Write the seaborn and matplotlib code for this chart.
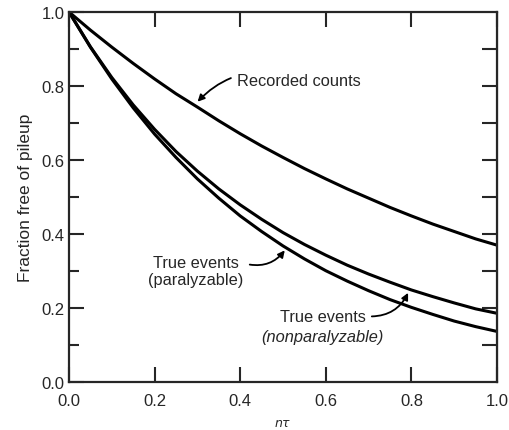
import numpy as np
import pandas as pd
import matplotlib.pyplot as plt
import seaborn as sns
from matplotlib.ticker import MultipleLocator

# values (n*tau from 0 to 1 in 0.05 steps)
n_tau = [0.00, 0.05, 0.10, 0.15, 0.20, 0.25, 0.30, 0.35, 0.40, 0.45, 0.50,
         0.55, 0.60, 0.65, 0.70, 0.75, 0.80, 0.85, 0.90, 0.95, 1.00]
recorded = [1.000, 0.951, 0.905, 0.861, 0.819, 0.779, 0.743, 0.706, 0.671, 0.638, 0.607,
            0.577, 0.549, 0.522, 0.497, 0.472, 0.449, 0.427, 0.407, 0.387, 0.370]
paralyzable = [1.000, 0.905, 0.819, 0.741, 0.670, 0.607, 0.549, 0.497, 0.449, 0.407, 0.368,
               0.333, 0.301, 0.273, 0.247, 0.223, 0.202, 0.183, 0.165, 0.150, 0.137]
nonparalyzable = [1.000, 0.906, 0.823, 0.749, 0.683, 0.623, 0.570, 0.522, 0.479, 0.440, 0.404,
                  0.372, 0.343, 0.316, 0.292, 0.270, 0.249, 0.231, 0.214, 0.198, 0.186]

df = pd.DataFrame({
    "ntau": n_tau * 3,
    "frac": recorded + paralyzable + nonparalyzable,
    "curve": ["Recorded"] * len(n_tau) + ["Paralyzable"] * len(n_tau) + ["Nonparalyzable"] * len(n_tau),
})

sns.set_style("ticks")
plt.rcParams["font.family"] = ["Liberation Sans", "DejaVu Sans"]

fig = plt.figure(figsize=(5.09, 4.31), dpi=100)
ax = fig.add_axes([0.1355, 0.111, 0.841, 0.859])

sns.lineplot(data=df, x="ntau", y="frac", units="curve", estimator=None,
             color="black", linewidth=2.2, ax=ax, legend=False)

ax.set_xlim(0, 1)
ax.set_ylim(0, 1)
for s in ax.spines.values():
    s.set_linewidth(1.6)
    s.set_visible(True)

ax.xaxis.set_major_locator(MultipleLocator(0.2))
ax.yaxis.set_major_locator(MultipleLocator(0.2))
ax.yaxis.set_minor_locator(MultipleLocator(0.1))
ax.xaxis.set_major_formatter(plt.FormatStrFormatter("%.1f"))
ax.yaxis.set_major_formatter(plt.FormatStrFormatter("%.1f"))
ax.tick_params(axis="x", which="major", direction="in", length=11, width=1.5,
               top=True, bottom=True, labelsize=12, pad=8)
ax.tick_params(axis="y", which="major", direction="in", length=11, width=1.5,
               left=True, right=False, labelsize=12, pad=3)
ax.tick_params(axis="y", which="minor", direction="in", length=7, width=1.5,
               left=True, right=False)

right = ax.secondary_yaxis("right")
right.set_yticks(np.arange(0.1, 1.0, 0.1))
right.tick_params(direction="in", length=11, width=1.5, labelright=False)

ax.set_xlabel(r"$n\tau$", fontsize=9, labelpad=6)
ax.set_ylabel("Fraction free of pileup", fontsize=12.5, labelpad=6)

arrow = dict(arrowstyle="-|>", color="black", lw=1.3, mutation_scale=10)
fs = 11.8
ax.annotate("Recorded counts", xy=(0.296, 0.752), xytext=(0.392, 0.814),
            fontsize=fs, va="center", ha="left",
            arrowprops=dict(connectionstyle="arc3,rad=0.35", **arrow))
ax.annotate("True events\n(paralyzable)", xy=(0.508, 0.362), xytext=(0.297, 0.300),
            fontsize=fs, va="center", ha="center", linespacing=1.1,
            arrowprops=dict(connectionstyle="arc3,rad=0.35", relpos=(1.0, 0.75), **arrow))
ax.annotate("True events", xy=(0.795, 0.248), xytext=(0.593, 0.178),
            fontsize=fs, va="center", ha="center",
            arrowprops=dict(connectionstyle="arc3,rad=0.35", relpos=(1.0, 0.5), **arrow))
ax.text(0.593, 0.124, "(nonparalyzable)", fontsize=fs, va="center", ha="center", style="italic")

plt.savefig("out.png", dpi=100)
